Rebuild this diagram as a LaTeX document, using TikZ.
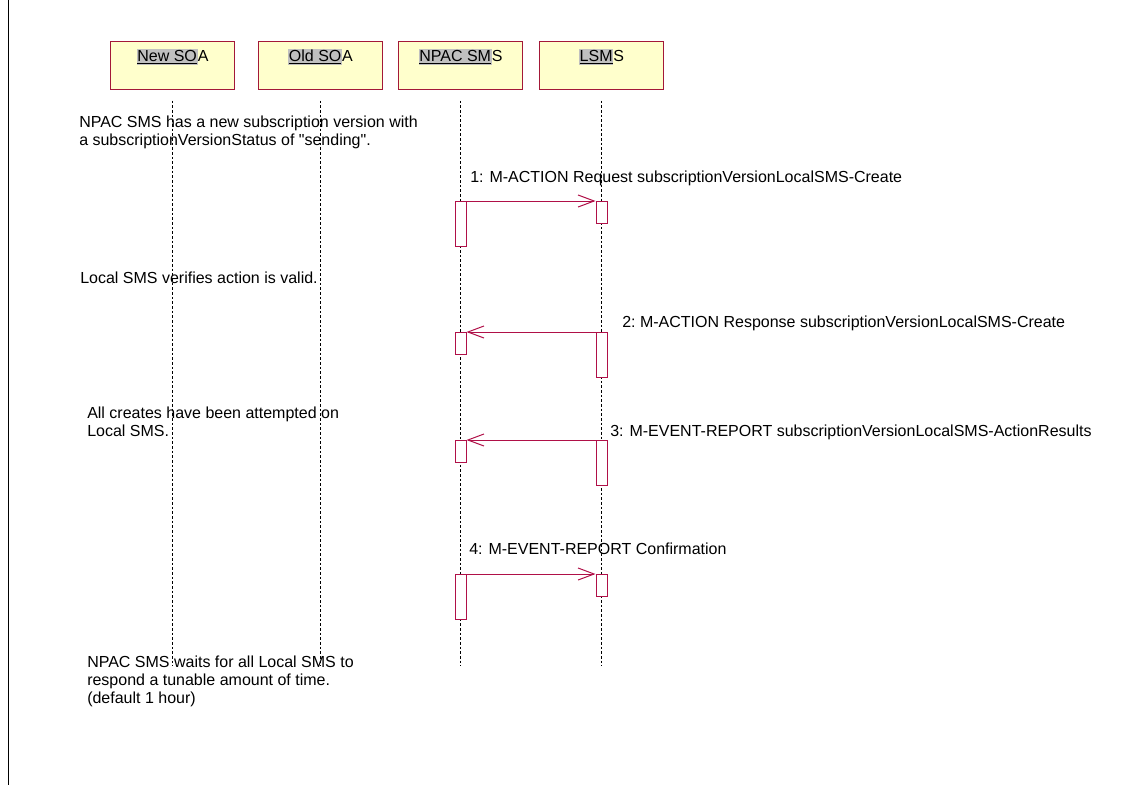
\documentclass[tikz,border=0pt]{standalone}
\usepackage{fontspec}
\setmainfont{Liberation Sans}[Ligatures=TeXOff]
\usepackage{xcolor}
\usetikzlibrary{positioning,arrows.meta}

\definecolor{boxred}{RGB}{163,24,56}
\definecolor{msgred}{RGB}{176,16,72}
\definecolor{boxyellow}{RGB}{255,255,204}
\definecolor{markgray}{RGB}{192,192,192}

% grey marked, underlined part of a participant name
\newcommand{\partmark}[1]{{\fboxsep=0.6pt\colorbox{markgray}{\underline{#1}}}}

\begin{document}
\begin{tikzpicture}[
    x=0.75pt, y=-0.75pt,
    font=\fontsize{12}{13.5}\selectfont,
    actor/.style={rectangle, draw=boxred, fill=boxyellow, line width=0.75pt, minimum width=93pt, inner sep=0pt, text height=15pt, text depth=21pt},
    lifeline/.style={draw=black, line width=0.5pt, dash pattern=on 2pt off 1.5pt},
    actbar/.style={rectangle, draw=msgred, fill=white, line width=0.75pt, minimum width=8.25pt, inner sep=0pt, anchor=north},
    longbar/.style={actbar, minimum height=33.75pt},
    shortbar/.style={actbar, minimum height=16.5pt},
    msg/.style={draw=msgred, line width=0.75pt, -{Straight Barb[length=12pt,width=9pt]}},
    msglabel/.style={anchor=base west, inner sep=0pt},
    note/.style={anchor=base west, inner sep=0pt, align=left}
]
\useasboundingbox (0,0) rectangle (1124,785);

% left border line
\coordinate (frametop) at (8,0);
\coordinate (framebot) at (8,785);
\draw[line width=0.75pt] (frametop) -- (framebot);

% participants
\node (newsoa) [actor] at (172.5,65) {\partmark{New SO}A};
\node (oldsoa) [actor, right=17.25pt of newsoa] {\partmark{Old SO}A};
\node (npac) [actor, right=11.25pt of oldsoa] {\partmark{NPAC SM}S};
\node (lsms) [actor, right=12pt of npac] {\partmark{LSM}S};

% lifelines
\draw[lifeline] (newsoa.south) ++(0,11) -- ++(0,565);
\draw[lifeline] (oldsoa.south) ++(0,11) -- ++(0,565);
\draw[lifeline] (npac.south) ++(0,11) -- ++(0,565);
\draw[lifeline] (lsms.south) ++(0,11) -- ++(0,565);

% activation bars
\node (act1a) [longbar] at (npac.south |- 0,201) {};
\node (act1b) [shortbar] at (lsms.south |- 0,201) {};
\node (act2a) [shortbar] at (npac.south |- 0,332) {};
\node (act2b) [longbar] at (lsms.south |- 0,332) {};
\node (act3a) [shortbar] at (npac.south |- 0,440) {};
\node (act3b) [longbar] at (lsms.south |- 0,440) {};
\node (act4a) [longbar] at (npac.south |- 0,574) {};
\node (act4b) [shortbar] at (lsms.south |- 0,574) {};

% messages
\draw[msg] (act1a.north east) -- (act1b.north west);
\draw[msg] (act2b.north west) -- (act2a.north east);
\draw[msg] (act3b.north west) -- (act3a.north east);
\draw[msg] (act4a.north east) -- (act4b.north west);

% message labels
\node (lab1) [msglabel] at (470,182) {1: M-ACTION Request subscriptionVersionLocalSMS-Create};
\node (lab2) [msglabel] at (622,327) {2:\ M-ACTION Response subscriptionVersionLocalSMS-Create};
\node (lab3) [msglabel] at (610,436) {3: M-EVENT-REPORT subscriptionVersionLocalSMS-ActionResults};
\node (lab4) [msglabel] at (469,554) {4: M-EVENT-REPORT Confirmation};

% notes (anchored at the baseline of their last line)
\node (note1) [note] at (79,145) {NPAC SMS has a new subscription version with\\a subscriptionVersionStatus of "sending".};
\node (note2) [note] at (80,283) {Local SMS verifies action is valid.};
\node (note3) [note] at (87,436) {All creates have been attempted on\\Local SMS.};
\node (note4) [note] at (87,703) {NPAC SMS waits for all Local SMS to\\respond a tunable amount of time.\\(default 1 hour)};

\end{tikzpicture}
\end{document}
